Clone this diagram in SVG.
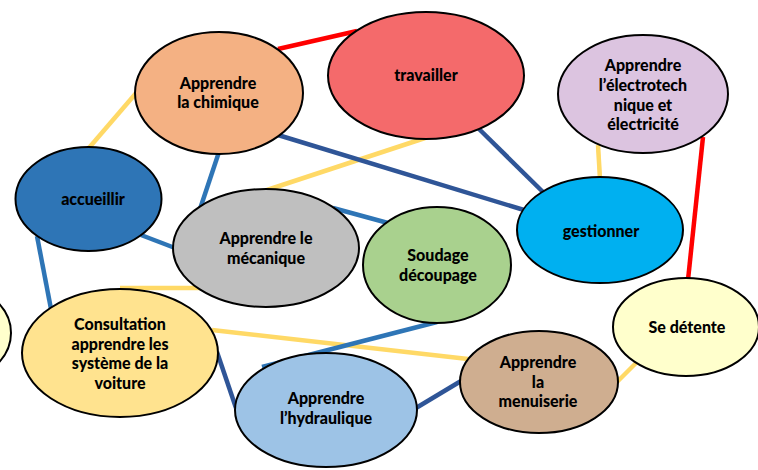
<svg xmlns="http://www.w3.org/2000/svg" width="758" height="470" viewBox="0 0 758 470">
<style>
.n{stroke:#000;stroke-width:2}
.t{font-family:Lato,"Liberation Sans",sans-serif;font-weight:900;font-size:16px;fill:#000;text-anchor:middle}
.c{fill:none;stroke-width:4.5}
.y{stroke:#FFD966}.b{stroke:#2E75B6}.d{stroke:#2F5597}.r{stroke:#FF0000}
</style>
<rect width="758" height="470" fill="#fff"/>
<g id="connectors">
<line class="c r" x1="278" y1="49" x2="357" y2="31"/>
<line class="c r" x1="703" y1="137" x2="688" y2="280"/>
<line class="c y" x1="598" y1="145" x2="600" y2="179"/>
<line class="c y" x1="88" y1="149" x2="137" y2="92"/>
<line class="c b" x1="219" y1="152" x2="200" y2="209"/>
<line class="c y" x1="425" y1="138" x2="267" y2="190"/>
<line class="c d" x1="278" y1="135" x2="524" y2="210"/>
<line class="c d" x1="477" y1="127" x2="544" y2="193"/>
<line class="c b" x1="333" y1="208" x2="388" y2="223"/>
<line class="c b" x1="141" y1="235" x2="175" y2="248"/>
<line class="c b" x1="37" y1="236" x2="51" y2="309"/>
<line class="c y" x1="120" y1="288" x2="200" y2="288"/>
<line class="c y" x1="212" y1="330" x2="468" y2="359"/>
<line class="c d" x1="217" y1="352" x2="236" y2="408"/>
<line class="c b" x1="437" y1="322" x2="262" y2="367"/>
<line class="c d" x1="416" y1="408" x2="461" y2="381"/>
<line class="c y" x1="616" y1="383" x2="637" y2="362"/>
</g>
<g id="partial">
<ellipse class="n" cx="-53" cy="333" rx="64" ry="50" fill="#FFFFCC"/>
</g>
<g id="accueillir">
<ellipse class="n" cx="88.5" cy="199" rx="73" ry="52" fill="#2E75B6"/>
<text class="t" x="93" y="205">accueillir</text>
</g>
<g id="chimique">
<ellipse class="n" cx="219" cy="93" rx="84" ry="61" fill="#F4B183"/>
<text class="t" x="218" y="89">Apprendre</text>
<text class="t" x="218" y="108">la chimique</text>
</g>
<g id="travailler">
<ellipse class="n" cx="426" cy="75.5" rx="98" ry="63.5" fill="#F46A6B"/>
<text class="t" x="426" y="81">travailler</text>
</g>
<g id="electrotech">
<ellipse class="n" cx="643" cy="94" rx="85" ry="59" fill="#DCC4E0"/>
<text class="t" x="643" y="71">Apprendre</text>
<text class="t" x="643" y="91">l’électrotech</text>
<text class="t" x="643" y="111">nique et</text>
<text class="t" x="643" y="130">électricité</text>
</g>
<g id="mecanique">
<ellipse class="n" cx="266" cy="248" rx="93" ry="59" fill="#BFBFBF"/>
<text class="t" x="266" y="244">Apprendre le</text>
<text class="t" x="266" y="264">mécanique</text>
</g>
<g id="soudage">
<ellipse class="n" cx="437" cy="265" rx="74" ry="58" fill="#A9D18E"/>
<text class="t" x="438" y="261">Soudage</text>
<text class="t" x="438" y="281">découpage</text>
</g>
<g id="gestionner">
<ellipse class="n" cx="600" cy="230" rx="83" ry="53" fill="#00B0F0"/>
<text class="t" x="601" y="237">gestionner</text>
</g>
<g id="detente">
<ellipse class="n" cx="686" cy="327" rx="73" ry="49" fill="#FFFFCC"/>
<text class="t" x="687" y="333">Se détente</text>
</g>
<g id="menuiserie">
<ellipse class="n" cx="539" cy="382" rx="79" ry="51" fill="#CFAE90"/>
<text class="t" x="538" y="368">Apprendre</text>
<text class="t" x="538" y="388">la</text>
<text class="t" x="538" y="407">menuiserie</text>
</g>
<g id="hydraulique">
<ellipse class="n" cx="326" cy="410" rx="91" ry="57" fill="#9DC3E6"/>
<text class="t" x="326" y="404">Apprendre</text>
<text class="t" x="326" y="424">l’hydraulique</text>
</g>
<g id="consultation">
<ellipse class="n" cx="120" cy="353" rx="98" ry="64" fill="#FFE38F"/>
<text class="t" x="120" y="330">Consultation</text>
<text class="t" x="120" y="350">apprendre les</text>
<text class="t" x="120" y="369">système de la</text>
<text class="t" x="120" y="389">voiture</text>
</g>
</svg>
